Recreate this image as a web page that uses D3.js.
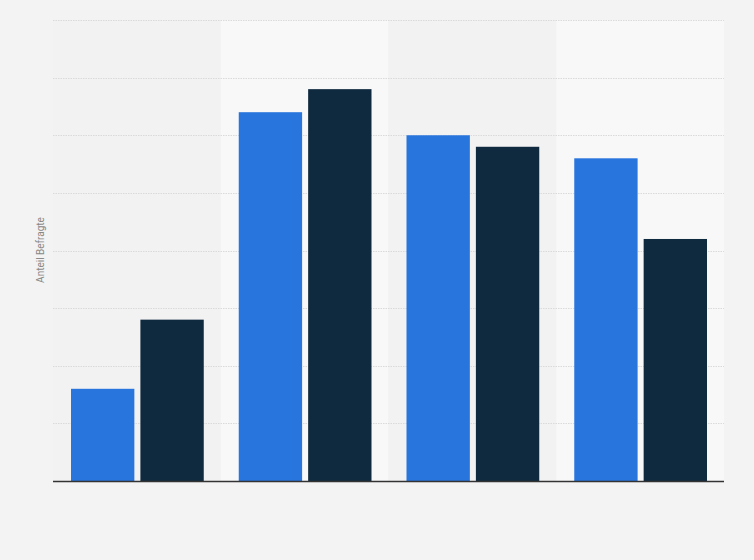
<!DOCTYPE html>
<html>
<head>
<meta charset="utf-8">
<script src="https://cdn.jsdelivr.net/npm/d3@7"></script>
<style>
  html, body { margin: 0; padding: 0; background: #f3f3f3; }
  svg { display: block; }
</style>
</head>
<body>
<svg id="chart" width="754" height="560"></svg>
<script>
// data (no category / tick labels are shown in it)
const categories = ['Gruppe 1', 'Gruppe 2', 'Gruppe 3', 'Gruppe 4'];
const seriesNames = ['Serie A', 'Serie B'];
const seriesA = [16, 64, 60, 56];
const seriesB = [28, 68, 58, 42];
const yTicks = [0, 10, 20, 30, 40, 50, 60, 70, 80];
const colors = ['#2876dd', '#0f2a3f'];

const svg = d3.select('#chart');
const margin = { top: 20, right: 30, bottom: 79, left: 53 };
const width = 754 - margin.left - margin.right;
const height = 560 - margin.top - margin.bottom;

const g = svg.append('g').attr('transform', `translate(${margin.left},${margin.top})`);

const x0 = d3.scaleBand().domain(categories).range([0, width]).padding(0);
const x1 = d3.scaleBand().domain(seriesNames)
    .range([18, x0.bandwidth() - 17])
    .paddingInner(0.087);
const y = d3.scaleLinear().domain([0, 80]).range([height, 0]);

// alternating column backgrounds
g.selectAll('rect.band')
    .data(categories)
    .join('rect')
    .attr('class', 'band')
    .attr('x', d => x0(d))
    .attr('y', 0)
    .attr('width', x0.bandwidth())
    .attr('height', height)
    .attr('fill', (d, i) => i % 2 ? '#f8f8f8' : '#f2f2f2');

// dotted gridlines
g.selectAll('line.grid')
    .data(yTicks.slice(1))
    .join('line')
    .attr('class', 'grid')
    .attr('x1', 0)
    .attr('x2', width)
    .attr('y1', d => Math.round(y(d)) + 0.5)
    .attr('y2', d => Math.round(y(d)) + 0.5)
    .attr('stroke', '#dadada')
    .attr('stroke-dasharray', '1.5,1');

const rows = categories.map((c, i) => ({ cat: c, values: [seriesA[i], seriesB[i]] }));

const groups = g.selectAll('g.grp')
    .data(rows)
    .join('g')
    .attr('class', 'grp')
    .attr('transform', d => `translate(${x0(d.cat)},0)`);

groups.selectAll('rect')
    .data(d => d.values.map((v, j) => ({ key: seriesNames[j], v: v, j: j })))
    .join('rect')
    .attr('x', d => x1(d.key))
    .attr('y', d => y(d.v))
    .attr('width', x1.bandwidth())
    .attr('height', d => height - y(d.v))
    .attr('fill', d => colors[d.j]);

// baseline
g.append('line')
    .attr('x1', 0)
    .attr('x2', width)
    .attr('y1', height + 0.5)
    .attr('y2', height + 0.5)
    .attr('stroke', '#333')
    .attr('stroke-width', 1.3);

// y-axis title
svg.append('text')
    .attr('transform', `translate(44,250) rotate(-90)`)
    .attr('text-anchor', 'middle')
    .attr('font-family', 'Roboto, Arial, sans-serif')
    .attr('font-size', 10)
    .attr('fill', '#888')
    .text('Anteil Befragte');
</script>
</body>
</html>
